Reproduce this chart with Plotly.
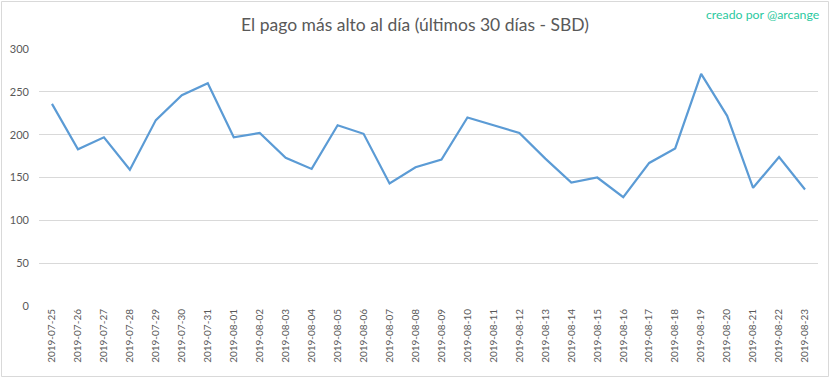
import plotly.graph_objects as go

dates = ["2019-07-25", "2019-07-26", "2019-07-27", "2019-07-28", "2019-07-29",
         "2019-07-30", "2019-07-31", "2019-08-01", "2019-08-02", "2019-08-03",
         "2019-08-04", "2019-08-05", "2019-08-06", "2019-08-07", "2019-08-08",
         "2019-08-09", "2019-08-10", "2019-08-11", "2019-08-12", "2019-08-13",
         "2019-08-14", "2019-08-15", "2019-08-16", "2019-08-17", "2019-08-18",
         "2019-08-19", "2019-08-20", "2019-08-21", "2019-08-22", "2019-08-23"]
max_payout = [236, 183, 197, 159, 217, 246, 260, 197, 202, 173,
              160, 211, 201, 143, 162, 171, 220, 211, 202, 172,
              144, 150, 127, 167, 184, 271, 222, 138, 174, 136]
y_ticks = [0, 50, 100, 150, 200, 250, 300]

W, H = 833, 379
L, R, T, B = 39, 15, 49, 73
pw, ph = W - L - R, H - T - B

def px_x(p):
    return (p - L) / pw

def px_y(p):
    return (H - B - p) / ph

fig = go.Figure()
fig.add_trace(go.Scatter(
    x=dates, y=max_payout, mode="lines",
    line=dict(color="#5b9bd5", width=2.2),
    hoverinfo="x+y", showlegend=False,
))

fig.update_layout(
    width=W, height=H,
    margin=dict(l=L, r=R, t=T, b=B, autoexpand=False),
    paper_bgcolor="white", plot_bgcolor="white",
    font=dict(family="Lato, 'Open Sans', sans-serif", color="#595959"),
    title=dict(text="El pago más alto al día (últimos 30 días - SBD)",
               x=px_x(415), xanchor="center", xref="paper",
               y=1 - 25 / H, yanchor="middle",
               font=dict(size=17.5, color="#595959")),
    xaxis=dict(type="category", tickangle=-90, showgrid=False,
               showline=False, zeroline=False, ticks="", automargin=False,
               tickfont=dict(size=10, color="#595959"),
               range=[-0.5, len(dates) - 0.5]),
    yaxis=dict(range=[0, 300], tickvals=y_ticks, showgrid=True,
               gridcolor="#d9d9d9", gridwidth=1, zeroline=False,
               showline=False, ticks="", automargin=False,
               ticklabelstandoff=9,
               tickfont=dict(size=11, color="#595959")),
    annotations=[dict(text="creado por @arcange", xref="paper", yref="paper",
                      x=px_x(822), y=px_y(14), xanchor="right", yanchor="middle",
                      showarrow=False,
                      font=dict(size=12.3, color="#2bc9a0"))],
    shapes=[dict(type="rect", xref="paper", yref="paper",
                 x0=px_x(1.5), x1=px_x(828.5), y0=px_y(376.5), y1=px_y(1.5),
                 line=dict(color="#d9d9d9", width=1), layer="above")],
)

fig.write_html("out.html", config={"displayModeBar": False},
               post_script="document.body.style.margin='0';document.body.style.overflow='hidden';")
